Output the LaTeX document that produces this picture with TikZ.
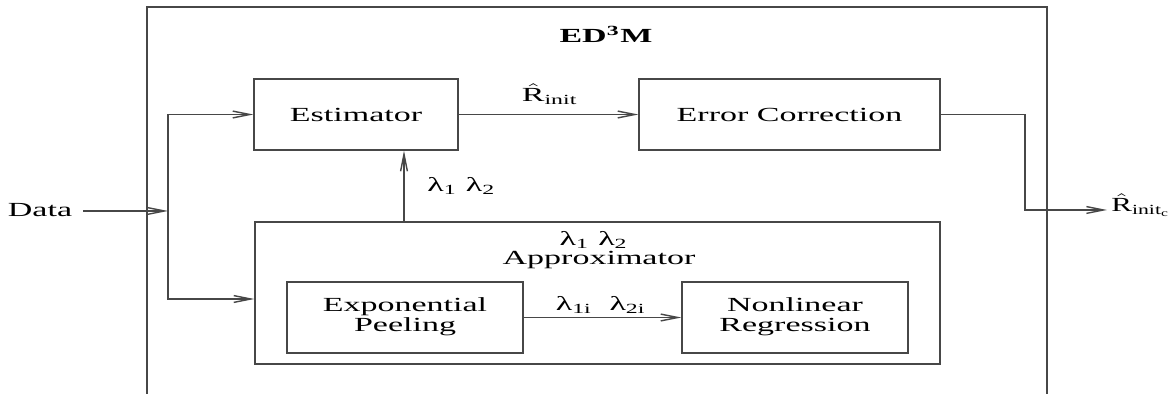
\documentclass[tikz,border=0pt]{standalone}
\usepackage{fontspec}
\setmainfont{Liberation Serif}
\usepackage{graphicx}
\usetikzlibrary{arrows.meta}
% labels are set wide, as in the original drawing
\newcommand{\stx}[1]{\scalebox{1.7}[1]{#1}}
\newcommand{\lam}[1]{λ\textsubscript{#1}}
\newcommand{\twolines}[2]{\def\arraystretch{0.85}\begin{tabular}{@{}c@{}}#1\\#2\end{tabular}}
\begin{document}
\begin{tikzpicture}[x=0.5pt,y=-0.5pt,
  wire/.style={draw=black!72, line width=0.7pt},
  flow/.style={wire, -{Straight Barb[length=8.5pt,width=3.4pt]}},
  blk/.style={draw=black!72, line width=0.7pt, rectangle, inner sep=0pt,
    font=\fontsize{10}{12}\selectfont},
  txt/.style={inner sep=0pt, font=\fontsize{10}{12}\selectfont}]
\useasboundingbox (0,0) rectangle (1174,394);

% enclosing ED3M frame (open at the bottom)
\draw[wire] (147,394) -- (147,7) -- (1047,7) -- (1047,394);
\node[txt, anchor=base] (title) at (606,43) {\stx{\bfseries ED\textsuperscript{3}M}};

% blocks
\node[blk, minimum width=102pt, minimum height=35.5pt] (est) at (356,114.5) {\stx{Estimator}};
\node[blk, minimum width=150.5pt, minimum height=35.5pt] (err) at (789.5,114.5) {\stx{Error Correction}};
\node[blk, minimum width=342.5pt, minimum height=71pt] (approx) at (597.5,293) {};
\node[txt, anchor=base] (approxsym) at (594,246) {\stx{\lam{1} \lam{2}}};
\node[txt, anchor=base] (approxname) at (599,265) {\stx{Approximator}};
\node[blk, minimum width=118pt, minimum height=35.5pt] (peel) at (405,317.5)
  {\stx{\twolines{Exponential}{Peeling}}};
\node[blk, minimum width=113pt, minimum height=35.5pt] (nonlin) at (795,317.5)
  {\stx{\twolines{Nonlinear}{Regression}}};

% input and output
\node[txt, anchor=base, inner xsep=5.5pt] (data) at (40,217) {\stx{Data}};
\node[txt, anchor=base west] (out) at (1111,212)
  {\scalebox{1.55}[1]{$\hat{\mathrm{R}}_{\mathrm{init}_{\mathrm{c}}}$}};

\coordinate (fork) at (168,211);
\coordinate (lowin) at (168,299);
\coordinate (upfoot) at (404,222);
\coordinate (outcorner) at (1025,210);

% connectors
\draw[flow] (data.east |- fork) -- (fork);
\draw[flow] (fork) |- (est.west);
\draw[flow] (fork) -- (lowin) -- (lowin -| approx.west);
\draw[flow] (est) -- (err);
\draw[flow] (upfoot |- approx.north) -- (upfoot |- est.south);
\draw[flow] (peel) -- (nonlin);
\draw[flow, shorten >=2pt] (err.east) -| (outcorner) -- (out.west |- outcorner);

% connector labels
\node[txt, anchor=base] (rinit) at (550,102) {\stx{$\hat{\mathrm{R}}_{\mathrm{init}}$}};
\node[txt, anchor=base west] (uplab) at (427,192) {\stx{\lam{1} \lam{2}}};
\node[txt, anchor=base] (peellab) at (601,311) {\stx{\lam{1i}\enspace\lam{2i}}};
\end{tikzpicture}
\end{document}
